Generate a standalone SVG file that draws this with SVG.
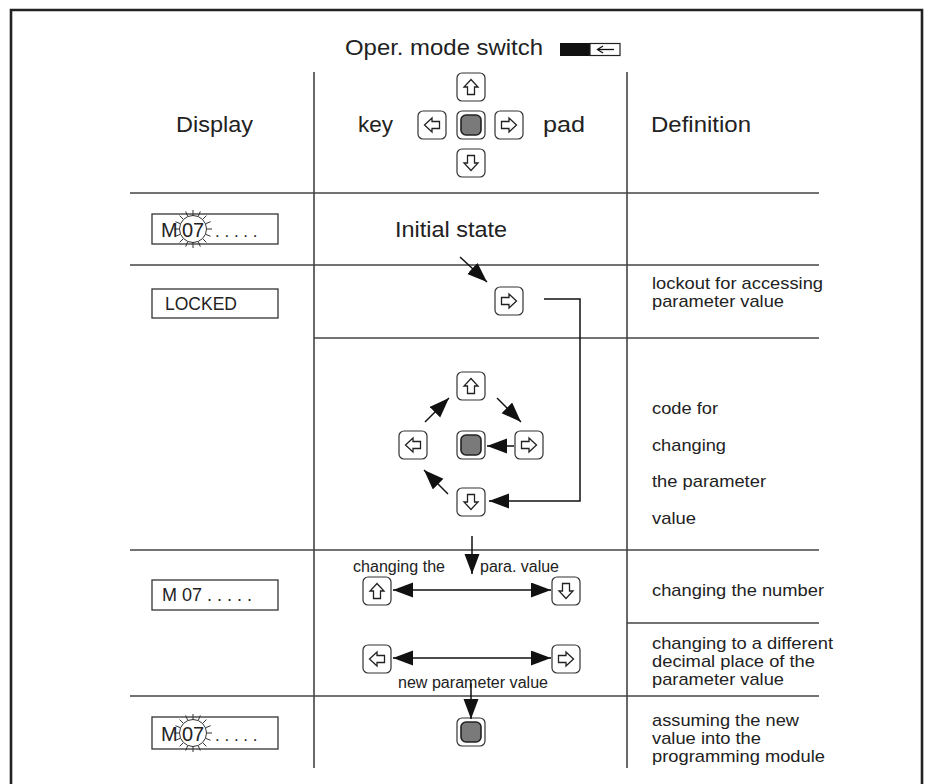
<svg xmlns="http://www.w3.org/2000/svg" width="928" height="784" viewBox="0 0 928 784">
<style>
text{font-family:"Liberation Sans",Arial,sans-serif;fill:#222}
.h{font-size:21.5px}
.d{font-size:17px}
.s{font-size:16px}
.grid{stroke:#444;stroke-width:1.6;fill:none}
.kf{fill:#fff;stroke:#333;stroke-width:1.2}
.ka{fill:#fff;stroke:#222;stroke-width:1.3;stroke-linejoin:miter}
.kc{fill:#7a7a7a;stroke:#222;stroke-width:1.6}
.box{fill:#fff;stroke:#333;stroke-width:1.3}
.con{stroke:#111;stroke-width:1.5;fill:none}
.sp{stroke:#333;stroke-width:1}
</style>
<defs>
<marker id="ah" markerUnits="userSpaceOnUse" markerWidth="21" markerHeight="16" refX="20" refY="7.5" orient="auto-start-reverse" viewBox="0 0 21 16"><path d="M0,0 L20,7.5 L0,15 z" fill="#111"/></marker>
<path id="arr" d="M0,-7.5 L7,0 L3.5,0 L3.5,7.5 L-3.5,7.5 L-3.5,0 L-7,0 Z"/>
<g id="ku"><rect class="kf" x="-14" y="-14" width="28" height="28" rx="5"/><use href="#arr" class="ka"/></g>
<g id="kd"><rect class="kf" x="-14" y="-14" width="28" height="28" rx="5"/><use href="#arr" class="ka" transform="rotate(180)"/></g>
<g id="kl"><rect class="kf" x="-14" y="-14" width="28" height="28" rx="5"/><use href="#arr" class="ka" transform="rotate(-90)"/></g>
<g id="kr"><rect class="kf" x="-14" y="-14" width="28" height="28" rx="5"/><use href="#arr" class="ka" transform="rotate(90)"/></g>
<g id="kc"><rect class="kf" x="-14" y="-14" width="28" height="28" rx="5"/><rect class="kc" x="-10" y="-10" width="20" height="20" rx="5"/></g>
<g id="flash">
<circle r="13.5" fill="#fff" stroke="#333" stroke-width="1"/>
<g class="sp">
<line x1="14" y1="0" x2="19" y2="0"/><line x1="-14" y1="0" x2="-19" y2="0"/>
<line x1="0" y1="-13" x2="0" y2="-19"/><line x1="0" y1="13" x2="0" y2="19"/>
<line x1="9.9" y1="-9.9" x2="13.4" y2="-13.4"/><line x1="-9.9" y1="-9.9" x2="-13.4" y2="-13.4"/>
<line x1="9.9" y1="9.9" x2="13.4" y2="13.4"/><line x1="-9.9" y1="9.9" x2="-13.4" y2="13.4"/>
<line x1="5.4" y1="-12.9" x2="7.3" y2="-17.6"/><line x1="-5.4" y1="-12.9" x2="-7.3" y2="-17.6"/>
<line x1="5.4" y1="12.9" x2="7.3" y2="17.6"/><line x1="-5.4" y1="12.9" x2="-7.3" y2="17.6"/>
<line x1="12.9" y1="-5.4" x2="17.6" y2="-7.3"/><line x1="-12.9" y1="-5.4" x2="-17.6" y2="-7.3"/>
<line x1="12.9" y1="5.4" x2="17.6" y2="7.3"/><line x1="-12.9" y1="5.4" x2="-17.6" y2="7.3"/>
</g>
</g>
</defs>
<rect width="928" height="784" fill="#fff"/>

<g id="frame">
<path d="M11,790 V10 H922 V790" fill="none" stroke="#222" stroke-width="2.6"/>
<g class="grid">
<line x1="314" y1="72" x2="314" y2="768"/>
<line x1="627" y1="72" x2="627" y2="768"/>
<line x1="130" y1="193" x2="819" y2="193"/>
<line x1="130" y1="265" x2="819" y2="265"/>
<line x1="314" y1="338" x2="819" y2="338"/>
<line x1="130" y1="550" x2="819" y2="550"/>
<line x1="627" y1="623" x2="819" y2="623"/>
<line x1="130" y1="696" x2="819" y2="696"/>
</g>
</g>

<g id="header">
<text class="h" x="345" y="55" textLength="198" lengthAdjust="spacingAndGlyphs">Oper. mode switch</text>
<g id="switch">
<rect x="560" y="43" width="30" height="13" fill="#111"/>
<rect x="590" y="43.5" width="30" height="12" fill="#fff" stroke="#222" stroke-width="1.2"/>
<line x1="598" y1="49.5" x2="614" y2="49.5" stroke="#111" stroke-width="1.3"/>
<path d="M603,46 L597.5,49.5 L603,53" fill="none" stroke="#111" stroke-width="1.3"/>
</g>
<text class="h" x="176" y="132" textLength="77" lengthAdjust="spacingAndGlyphs">Display</text>
<text class="h" x="358" y="132" textLength="35" lengthAdjust="spacingAndGlyphs">key</text>
<text class="h" x="543" y="132" textLength="42" lengthAdjust="spacingAndGlyphs">pad</text>
<text class="h" x="651" y="132" textLength="100" lengthAdjust="spacingAndGlyphs">Definition</text>
<g id="keypad">
<use href="#ku" x="471" y="87"/>
<use href="#kl" x="432" y="125"/>
<use href="#kc" x="471" y="125"/>
<use href="#kr" x="509" y="125"/>
<use href="#kd" x="471" y="163"/>
</g>
</g>

<g id="row-initial">
<rect class="box" x="152" y="214" width="126" height="30"/>
<use href="#flash" x="193" y="229"/>
<text x="161" y="237" style="font-size:20px">M</text>
<text x="193" y="237" text-anchor="middle" style="font-size:20px">07</text>
<text x="215" y="237" style="font-size:17px">. . . . .</text>
<text class="h" x="395" y="237" textLength="112" lengthAdjust="spacingAndGlyphs">Initial state</text>
</g>

<g id="row-locked">
<rect class="box" x="152" y="289" width="126" height="29"/>
<text x="165" y="310" style="font-size:17.5px">LOCKED</text>
<use id="key-locked-right" href="#kr" x="509" y="301"/>
<text class="d" x="652" y="289" textLength="171" lengthAdjust="spacingAndGlyphs">lockout for accessing</text>
<text class="d" x="652" y="307" textLength="132" lengthAdjust="spacingAndGlyphs">parameter value</text>
</g>

<g id="row-code">
<use id="code-up" href="#ku" x="471" y="386"/>
<use id="code-left" href="#kl" x="413" y="445"/>
<use id="code-center" href="#kc" x="471" y="445"/>
<use id="code-right" href="#kr" x="529" y="445"/>
<use id="code-down" href="#kd" x="471" y="502"/>
<text class="d" x="652" y="414" textLength="66" lengthAdjust="spacingAndGlyphs">code for</text>
<text class="d" x="652" y="451" textLength="74" lengthAdjust="spacingAndGlyphs">changing</text>
<text class="d" x="652" y="487" textLength="114" lengthAdjust="spacingAndGlyphs">the parameter</text>
<text class="d" x="652" y="524" textLength="44" lengthAdjust="spacingAndGlyphs">value</text>
</g>

<g id="row-change">
<rect class="box" x="152" y="580" width="126" height="30"/>
<text x="162" y="601" style="font-size:18px">M 07 . . . . .</text>
<text class="s" x="353" y="572" textLength="92" lengthAdjust="spacingAndGlyphs">changing the</text>
<text class="s" x="480" y="572" textLength="79" lengthAdjust="spacingAndGlyphs">para. value</text>
<use id="chg-up" href="#ku" x="377" y="591"/>
<use id="chg-down" href="#kd" x="566" y="591"/>
<text class="d" x="652" y="596" textLength="172" lengthAdjust="spacingAndGlyphs">changing the number</text>
<use id="dec-left" href="#kl" x="377" y="659"/>
<use id="dec-right" href="#kr" x="566" y="659"/>
<text class="s" x="398" y="688" textLength="150" lengthAdjust="spacingAndGlyphs">new parameter value</text>
<text class="d" x="652" y="649" textLength="181" lengthAdjust="spacingAndGlyphs">changing to a different</text>
<text class="d" x="652" y="667" textLength="163" lengthAdjust="spacingAndGlyphs">decimal place of the</text>
<text class="d" x="652" y="685" textLength="132" lengthAdjust="spacingAndGlyphs">parameter value</text>
</g>

<g id="row-assume">
<rect class="box" x="152" y="717" width="126" height="32"/>
<use href="#flash" x="193" y="733"/>
<text x="161" y="741" style="font-size:20px">M</text>
<text x="193" y="741" text-anchor="middle" style="font-size:20px">07</text>
<text x="215" y="741" style="font-size:17px">. . . . .</text>
<use id="assume-center" href="#kc" x="471" y="732"/>
<text class="d" x="652" y="726" textLength="147" lengthAdjust="spacingAndGlyphs">assuming the new</text>
<text class="d" x="652" y="744" textLength="109" lengthAdjust="spacingAndGlyphs">value into the</text>
<text class="d" x="652" y="762" textLength="173" lengthAdjust="spacingAndGlyphs">programming module</text>
</g>

<g id="connectors">
<line class="con" x1="460" y1="257" x2="487" y2="282" marker-end="url(#ah)"/>
<path class="con" d="M544,299 H580 V501 H489" marker-end="url(#ah)"/>
<line class="con" x1="425" y1="422" x2="449" y2="398" marker-end="url(#ah)"/>
<line class="con" x1="497" y1="398" x2="521" y2="422" marker-end="url(#ah)"/>
<line class="con" x1="514" y1="446" x2="487" y2="446" marker-end="url(#ah)"/>
<line class="con" x1="448" y1="494" x2="424" y2="470" marker-end="url(#ah)"/>
<line class="con" x1="472" y1="536" x2="472" y2="574" marker-end="url(#ah)"/>
<line class="con" x1="393" y1="590" x2="551" y2="590" marker-start="url(#ah)" marker-end="url(#ah)"/>
<line class="con" x1="393" y1="658" x2="551" y2="658" marker-start="url(#ah)" marker-end="url(#ah)"/>
<line class="con" x1="471" y1="683" x2="471" y2="719" marker-end="url(#ah)"/>
</g>
</svg>
